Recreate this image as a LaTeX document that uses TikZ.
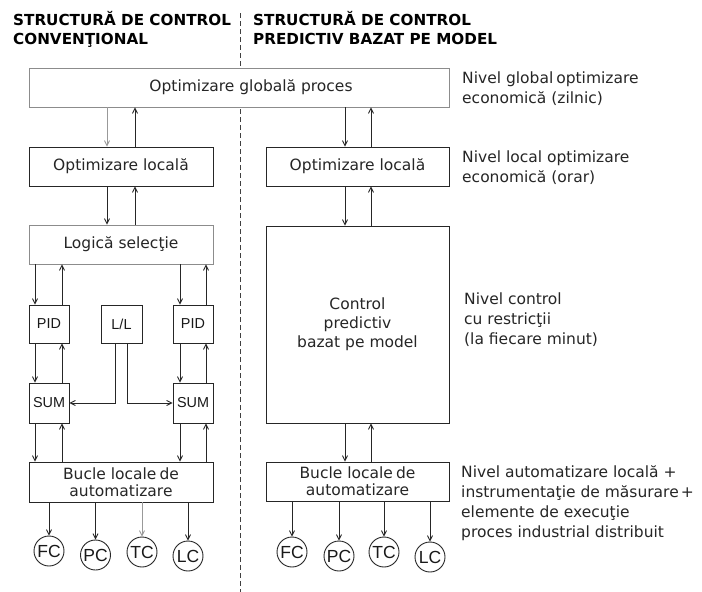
\documentclass[tikz,border=0pt]{standalone}
\usepackage{fontspec}
\setmainfont{DejaVu Sans}
\newfontfamily\arialf{Liberation Sans}
\usetikzlibrary{arrows.meta,calc}
\begin{document}
\begin{tikzpicture}[x=1pt,y=-1pt,
  ln/.style={draw=black!85,line width=0.9pt},
  arr/.style={ln,-{Straight Barb[length=5pt,width=5pt]}},
  grayarr/.style={arr,draw=black!40},
  box/.style n args={2}{ln,fill=white,inner sep=0pt,minimum width=#1pt,minimum height=#2pt,
     font=\fontsize{15.5}{17}\selectfont,align=center,text=black!85},
  sbox/.style={ln,fill=white,inner sep=0pt,minimum width=40pt,minimum height=38pt,
     font=\arialf\fontsize{14.4}{14.4}\selectfont,text=black!90},
  circ/.style={ln,circle,fill=white,inner sep=0pt,minimum size=30pt,
     font=\arialf\fontsize{17.5}{17.5}\selectfont,text=black!90},
  txt/.style={inner sep=0pt,anchor=base west,align=left,font=\fontsize{15.5}{20}\selectfont,text=black!85},
  hdr/.style={inner sep=0pt,anchor=base west,align=left,font=\bfseries\fontsize{15.2}{19.5}\selectfont,text=black}
]
\fill[white] (0,0) rectangle (702,592);
\useasboundingbox (0,0) rectangle (702,592);

% divider
\coordinate (dtop) at (240,13);
\coordinate (dbot) at (240,592);
\draw[black!75,line width=0.9pt,dash pattern=on 5pt off 3pt] (dtop) -- (dbot);

% headers (base = baseline of last line)
\node[hdr] (h1) at (13,44.5) {STRUCTURĂ DE CONTROL\\CONVENŢIONAL};
\node[hdr] (h2) at (253,44.5) {STRUCTURĂ DE CONTROL\\PREDICTIV BAZAT PE MODEL};

% boxes
\node[box={420}{39},draw=black!45] (glob) at (239,87.5) {\hspace*{24pt}Optimizare globală proces};
\node[box={184}{39}] (locL) at (121,166.5) {Optimizare locală};
\node[box={183}{39}] (locR) at (357.5,166.5) {Optimizare locală};
\node[box={184}{39},draw=black!45] (logic) at (121,244.5) {Logică selecţie};
\node[box={183}{197},font=\fontsize{15.5}{19}\selectfont] (mpc) at (357.5,324.5) {Control\\predictiv\\bazat pe model};
\node[sbox] (pidL) at (49,324) {PID};
\node[sbox,minimum width=41pt] (ll) at (121.5,324) {L/L};
\node[sbox] (pidR) at (193,324) {PID};
\node[sbox,minimum height=40pt] (sumL) at (49,403) {SUM};
\node[sbox,minimum height=40pt] (sumR) at (193,403) {SUM};
\node[box={184}{40}] (bucL) at (121,482) {Bucle locale\kern3pt de\\automatizare};
\node[box={183}{39}] (bucR) at (357.5,481.5) {Bucle locale\kern3pt de\\automatizare};

% circles
\node[circ] (fcL) at (49,551) {FC};
\node[circ] (pcL) at (95.5,555) {PC};
\node[circ] (tcL) at (142,552) {TC};
\node[circ] (lcL) at (188,556) {LC};
\node[circ] (fcR) at (292,552) {FC};
\node[circ] (pcR) at (339,556) {PC};
\node[circ] (tcR) at (384,552) {TC};
\node[circ] (lcR) at (430,557) {LC};

% side texts (base = baseline of last line)
\node[txt] (t1) at (462,103) {Nivel global\kern3pt optimizare\\economică (zilnic)};
\node[txt] (t2) at (462,182) {Nivel local optimizare\\economică (orar)};
\node[txt] (t3) at (464,344) {Nivel control\\cu restricţii\\(la fiecare minut)};
\node[txt] (t4) at (461,537) {Nivel automatizare locală +\\instrumentaţie de măsurare\kern2pt+\\elemente de execuţie\\proces industrial distribuit};

% vertical links: down arrows (upper -> lower) and up arrows (lower -> upper)
\newcommand\dnlink[4][arr]{\draw[#1] ($(#3.north |- #2.south)+(#4,0)$) -- ($(#3.north)+(#4,0)$);}
\newcommand\uplink[4][arr]{\draw[#1] ($(#3.north)+(#4,0)$) -- ($(#3.north |- #2.south)+(#4,0)$);}

% left column
\dnlink[grayarr]{glob}{locL}{-14}
\uplink{glob}{locL}{14}
\dnlink{locL}{logic}{-14}
\uplink{locL}{logic}{14}
\dnlink{logic}{pidL}{-14}
\uplink{logic}{pidL}{13}
\dnlink{logic}{pidR}{-13}
\uplink{logic}{pidR}{13}
\dnlink{pidL}{sumL}{-14}
\uplink{pidL}{sumL}{13}
\dnlink{pidR}{sumR}{-13}
\uplink{pidR}{sumR}{13}
\dnlink{sumL}{bucL}{-86}
\uplink{sumL}{bucL}{-59}
\dnlink{sumR}{bucL}{59}
\uplink{sumR}{bucL}{85}
\draw[arr] ($(ll.south)+(-6.5,0)$) |- (sumL.east);
\draw[arr] ($(ll.south)+(5.5,0)$) |- (sumR.west);

% right column
\dnlink{glob}{locR}{-12.5}
\uplink{glob}{locR}{13.5}
\dnlink{locR}{mpc}{-12.5}
\uplink{locR}{mpc}{13.5}
\dnlink{mpc}{bucR}{-12.5}
\uplink{mpc}{bucR}{13.5}

% to instruments
\draw[arr] (bucL.south -| fcL.north) -- (fcL.north);
\draw[arr] (bucL.south -| pcL.north) -- (pcL.north);
\draw[grayarr] (bucL.south -| tcL.north) -- (tcL.north);
\draw[arr] (bucL.south -| lcL.north) -- (lcL.north);
\draw[arr] (bucR.south -| fcR.north) -- (fcR.north);
\draw[arr] (bucR.south -| pcR.north) -- (pcR.north);
\draw[arr] (bucR.south -| tcR.north) -- (tcR.north);
\draw[arr] (bucR.south -| lcR.north) -- (lcR.north);
\end{tikzpicture}
\end{document}
